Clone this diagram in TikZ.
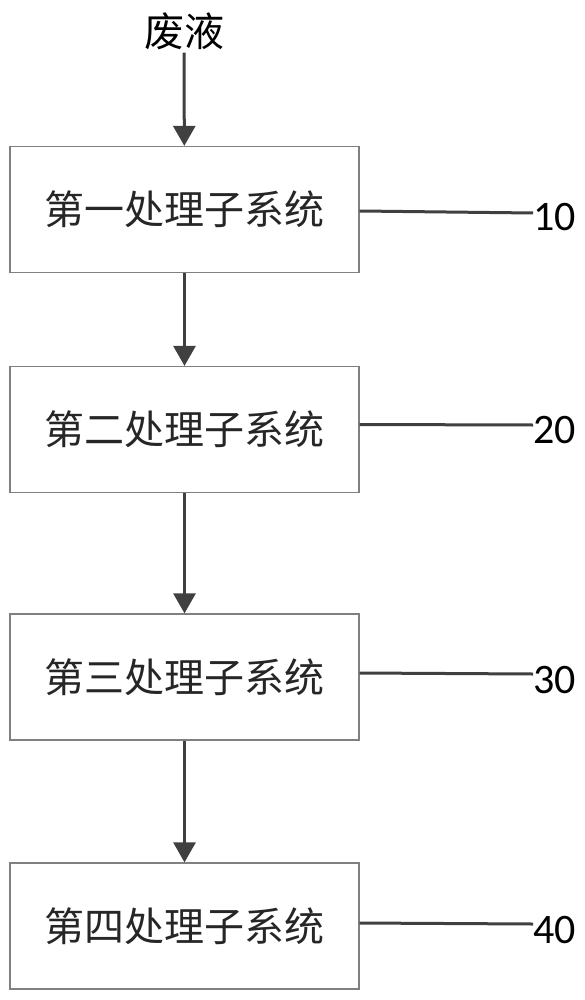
\documentclass[tikz,border=0pt]{standalone}
\usepackage{fontspec}
\setmainfont{Carlito}
\newfontfamily\cjk{Noto Sans CJK SC}
\usetikzlibrary{arrows.meta}
\definecolor{arrowgray}{HTML}{404040}
\definecolor{boxgray}{HTML}{808080}
\begin{document}
\begin{tikzpicture}[x=1pt,y=-1pt,
  sysbox/.style={draw=boxgray,line width=1.3pt,minimum width=349pt,minimum height=126pt,inner sep=0pt,font=\cjk\fontsize{40}{44}\selectfont,text=black!85},
  flow/.style={draw=arrowgray,line width=3pt,-{Triangle[width=22pt,length=20pt]}},
  leader/.style={draw=arrowgray,line width=3pt},
  reflabel/.style={anchor=west,inner sep=0pt,font=\fontsize{42}{46}\selectfont,text=black}]
\useasboundingbox[fill=white] (0,0) rectangle (585,1000);
\node[inner sep=0pt,outer sep=3pt,font=\cjk\fontsize{40}{44}\selectfont] (in) at (184,31) {废液};
\node[sysbox] (b1) at (184.5,209.5) {第一处理子系统};
\node[sysbox] (b2) at (184.5,429.5) {第二处理子系统};
\node[sysbox] (b3) at (184.5,677) {第三处理子系统};
\node[sysbox] (b4) at (184.5,926) {第四处理子系统};
\node[reflabel] (l1) at (533,217) {10};
\node[reflabel] (l2) at (533,430) {20};
\node[reflabel] (l3) at (533,680) {30};
\node[reflabel] (l4) at (533,930) {40};
\draw[flow] (in) -- (b1);
\draw[flow] (b1) -- (b2);
\draw[flow] (b2) -- (b3);
\draw[flow] (b3) -- (b4);
\draw[leader] ([yshift=-1.5pt]b1.east) -- ([yshift=4pt]l1.west);
\draw[leader] ([yshift=5pt]b2.east) -- ([yshift=5pt]l2.west);
\draw[leader] ([yshift=4pt]b3.east) -- ([yshift=6pt]l3.west);
\draw[leader] ([yshift=3pt]b4.east) -- ([yshift=6pt]l4.west);
\end{tikzpicture}
\end{document}
